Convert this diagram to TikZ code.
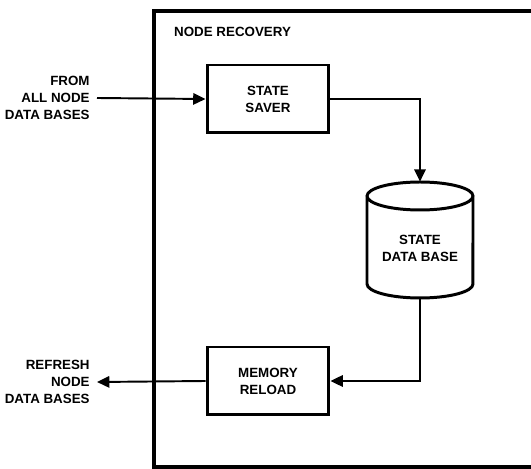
\documentclass[tikz,border=0pt]{standalone}
\usepackage{fontspec}
\setmainfont{Liberation Sans}
\usetikzlibrary{arrows.meta}

\begin{document}
\begin{tikzpicture}[x=0.02cm,y=-0.02cm,
    every node/.style={font=\fontsize{7.6}{9.6}\selectfont\bfseries, align=center},
    blk/.style={draw, line width=1.7pt, minimum width=2.44cm, minimum height=1.36cm},
    flow/.style={line width=1.1pt, -{Triangle[length=7pt,width=6.5pt]}}]
    \useasboundingbox (0,0) rectangle (531,469);
    % frame (runs off the right side)
    \draw[line width=2.4pt] (540,11) -- (154,11) -- (154,467) -- (540,467);
    \node[anchor=west] (frametitle) at (168,32) {NODE RECOVERY};
    \node[blk] (saver) at (268,99) {STATE\\SAVER};
    \node[blk] (reload) at (268,381) {MEMORY\\RELOAD};
    % data base drum
    \node[inner sep=0pt, minimum width=2.12cm, minimum height=2.32cm] (db) at (420,240) {};
    \draw[line width=1.7pt] (367,196) -- (367,284) arc[start angle=180, end angle=360, x radius=1.06cm, y radius=0.28cm]
        -- (473,196) (420,196) ellipse[x radius=1.06cm, y radius=0.28cm];
    \node (dbtxt) at (420,248) {STATE\\DATA BASE};
    \node[align=right, anchor=east, inner sep=4pt] (fromtxt) at (97,98) {FROM\\ALL NODE\\DATA BASES};
    \node[align=right, anchor=east, inner sep=4pt] (refreshtxt) at (97,382) {REFRESH\\NODE\\DATA BASES};
    \draw[flow] (fromtxt.east) -- (saver.west);
    \draw[flow] (saver.east) -| (db.north);
    \draw[flow] (db.south) |- (reload.east);
    \draw[flow] (reload.west) -- (refreshtxt.east);
\end{tikzpicture}
\end{document}
